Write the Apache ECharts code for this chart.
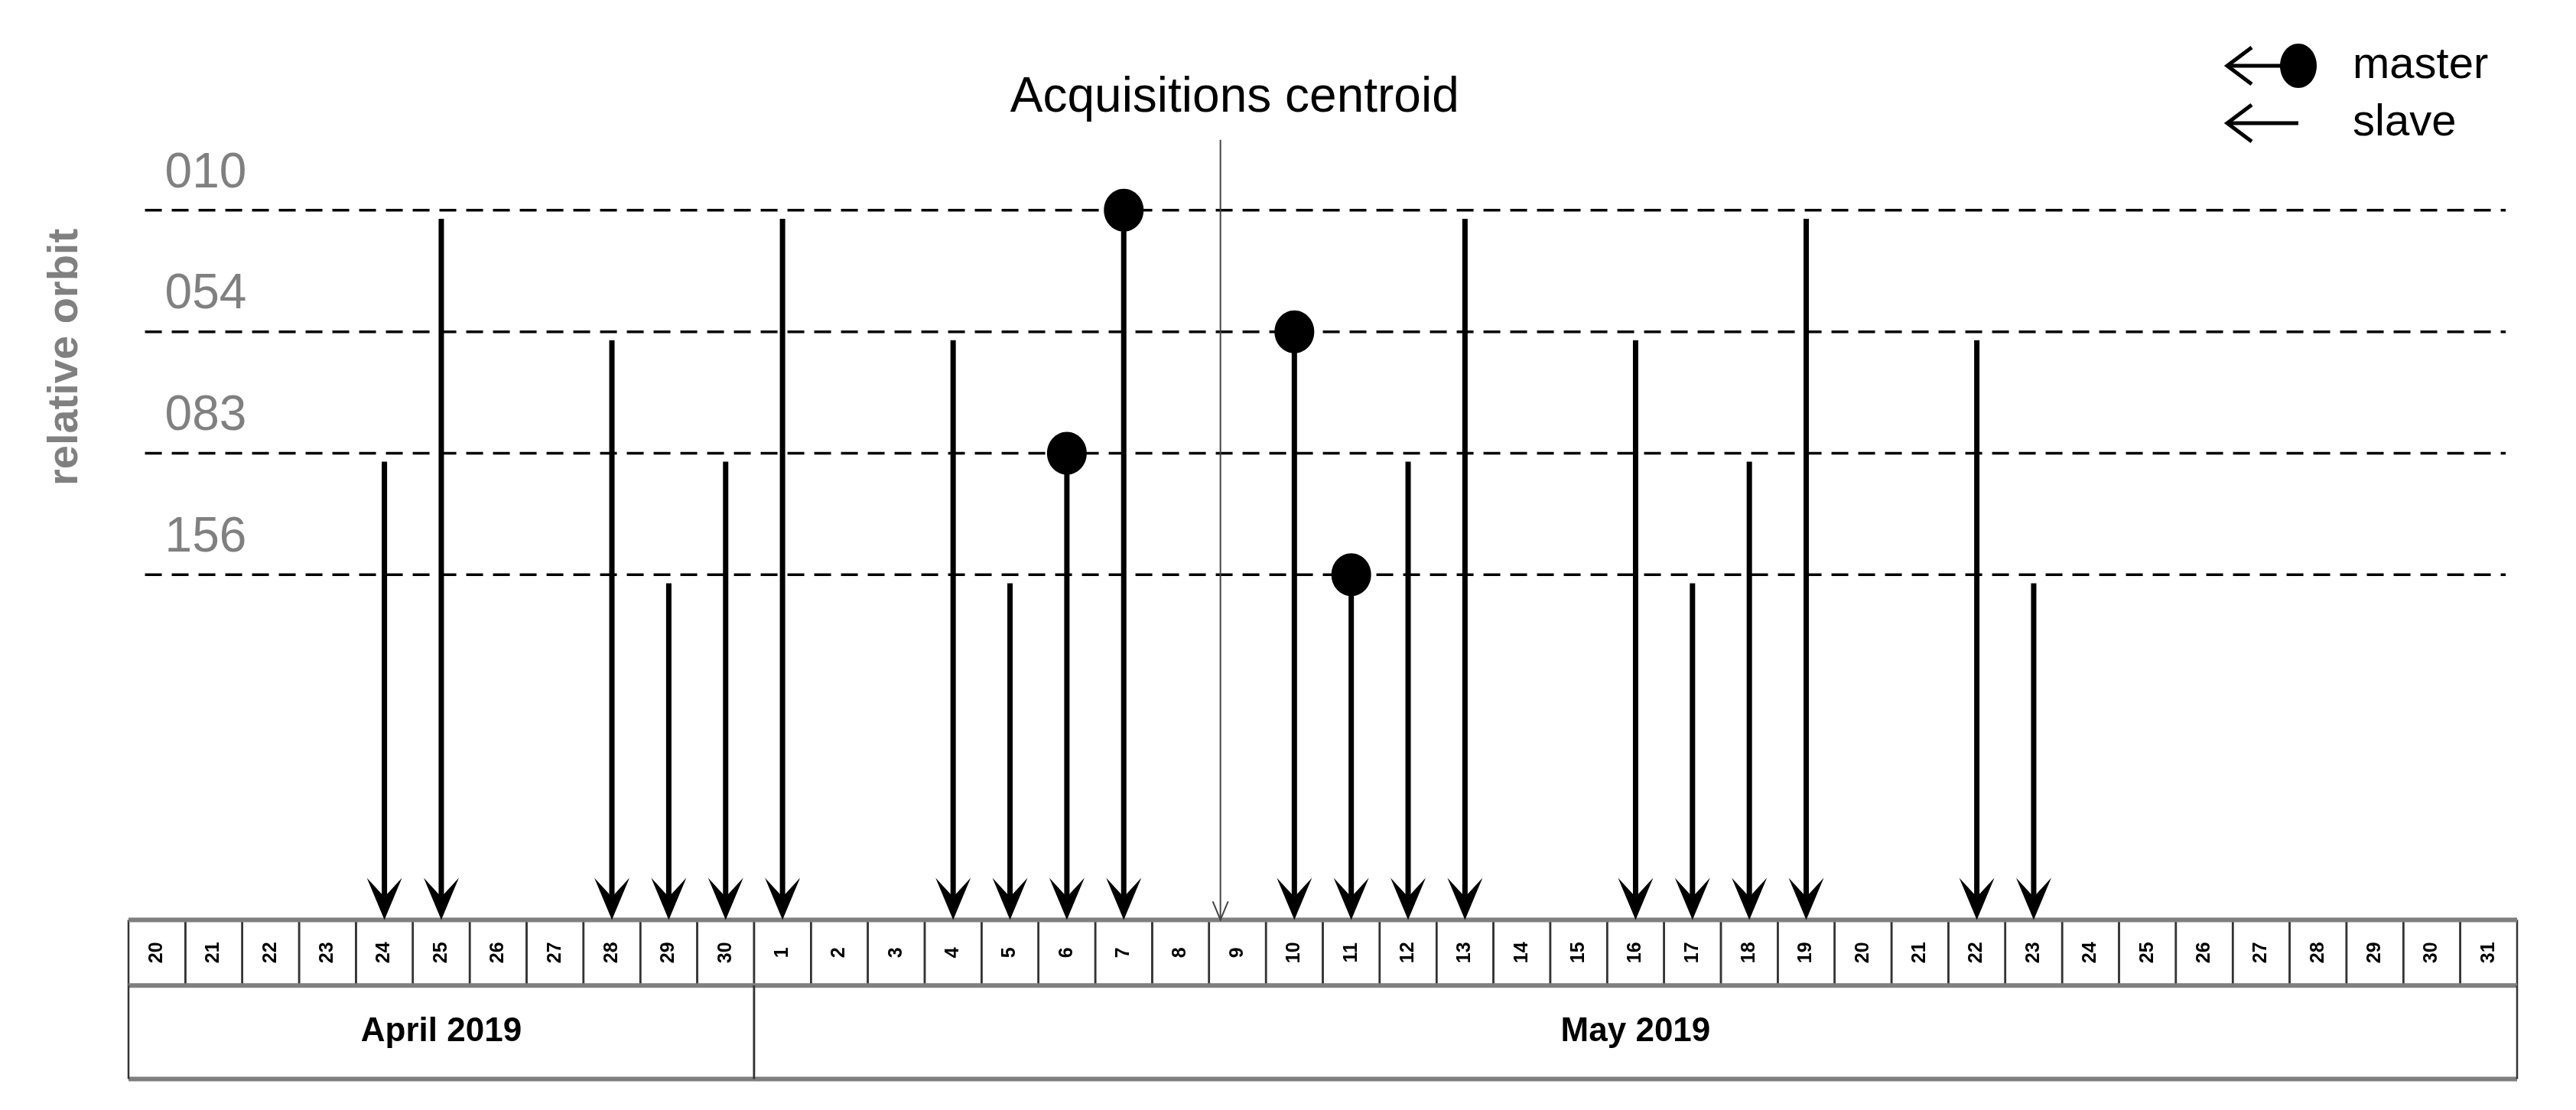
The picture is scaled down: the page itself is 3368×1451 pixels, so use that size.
<!DOCTYPE html>
<html><head><meta charset="utf-8">
<script src="https://cdn.jsdelivr.net/npm/echarts@6/dist/echarts.min.js"></script>
<style>html,body{margin:0;padding:0;background:#fff}#c{width:3368px;height:1451px}</style>
</head><body><div id="c"></div>
<script>
// ---- data ----
const days = ['20','21','22','23','24','25','26','27','28','29','30','1','2','3','4','5','6','7','8','9','10','11','12','13','14','15','16','17','18','19','20','21','22','23','24','25','26','27','28','29','30','31'];
const months = [['April 2019', 0, 11], ['May 2019', 11, 42]];
const orbits = ['156', '083', '054', '010']; // bottom to top
// [day index, orbit]
const slaves = [[4,'083'],[5,'010'],[8,'054'],[9,'156'],[10,'083'],[11,'010'],[14,'054'],[15,'156'],[22,'083'],[23,'010'],[26,'054'],[27,'156'],[28,'083'],[29,'010'],[32,'054'],[33,'156']];
const masters = [[16,'083'],[17,'010'],[20,'054'],[21,'156']];
const centroid = 19.2;

const BASE = -2.84, DAYBOT = -3.38, MONBOT = -4.15;
const FONT = '"Liberation Sans Narrow","Liberation Sans",Arial,sans-serif';
const chart = echarts.init(document.getElementById('c'));

function arrowItem(isMaster) {
  return function (params, api) {
    const x = api.value(0) + 0.5, lvl = api.value(1);
    const top = api.coord([x, isMaster ? lvl : lvl - 0.07]);
    const tip = api.coord([x, BASE]);
    const ch = [{type:'line', shape:{x1:top[0], y1:top[1], x2:tip[0], y2:tip[1]-30}, style:{stroke:'#000', lineWidth:7}},
      {type:'polygon', shape:{points:[[tip[0],tip[1]],[tip[0]-23,tip[1]-55],[tip[0],tip[1]-30],[tip[0]+23,tip[1]-55]]}, style:{fill:'#000'}}];
    if (isMaster) ch.push({type:'ellipse', shape:{cx:top[0], cy:top[1], rx:26, ry:28}, style:{fill:'#000'}});
    return {type:'group', children: ch};
  };
}

chart.setOption({
  animation: false,
  grid: {left:168, right:77, top:0, bottom:0},
  xAxis: {type:'value', min:0, max:42, show:false},
  yAxis: {type:'value', min:-4.405, max:4.73, show:false},
  graphic: [
    {type:'text', x:86, y:467, rotation:Math.PI/2,
     style:{text:'relative orbit', font:'bold 56px "Liberation Sans",Arial', fill:'#808080', textAlign:'center', textVerticalAlign:'middle', x:0, y:0}},
    {type:'text', x:3076, y:86, style:{text:'master', font:'58px "Liberation Sans",Arial', fill:'#000', textVerticalAlign:'middle'}},
    {type:'text', x:3076, y:161, style:{text:'slave', font:'58px "Liberation Sans",Arial', fill:'#000', textVerticalAlign:'middle'}},
    {type:'line', shape:{x1:2912,y1:86,x2:3000,y2:86}, style:{stroke:'#000', lineWidth:5}},
    {type:'polyline', shape:{points:[[2944,62],[2912,86],[2944,110]]}, style:{stroke:'#000', lineWidth:5, fill:null}},
    {type:'ellipse', shape:{cx:3005,cy:86,rx:24,ry:29}, style:{fill:'#000'}},
    {type:'line', shape:{x1:2912,y1:161,x2:3005,y2:161}, style:{stroke:'#000', lineWidth:5}},
    {type:'polyline', shape:{points:[[2944,137],[2912,161],[2944,185]]}, style:{stroke:'#000', lineWidth:5, fill:null}}
  ],
  series: [
    { // dashed orbit lines + labels
      type:'custom', data: orbits.map((o,i)=>[i,o]), silent:true, z:1,
      renderItem: (p, api) => {
        const i = api.value(0);
        const a = api.coord([0.29, i]), b = api.coord([41.8, i]), t = api.coord([0.64, i + 0.1]);
        return {type:'group', children:[
          {type:'line', shape:{x1:a[0],y1:a[1],x2:b[0],y2:b[1]}, style:{stroke:'#000', lineWidth:3.5, lineDash:[22,13]}},
          {type:'text', style:{x:t[0], y:t[1], text:orbits[i], font:'64px '+FONT, fill:'#808080', textVerticalAlign:'bottom'}}
        ]};
      }
    },
    { // day cells
      type:'custom', data: days.map((d,i)=>[i,d]), silent:true, z:2,
      renderItem: (p, api) => {
        const i = api.value(0);
        const a = api.coord([i, BASE]), b = api.coord([i+1, DAYBOT]), c = api.coord([i+0.5,(BASE+DAYBOT)/2]);
        return {type:'group', children:[
          {type:'line', shape:{x1:a[0],y1:a[1],x2:a[0],y2:b[1]}, style:{stroke:'#333', lineWidth:2.5}},
          {type:'line', shape:{x1:b[0],y1:a[1],x2:b[0],y2:b[1]}, style:{stroke:'#333', lineWidth:2.5}},
          {type:'text', x:c[0], y:c[1], rotation:Math.PI/2, style:{x:0,y:0,text:days[i], font:'bold 25px "Liberation Sans",Arial', fill:'#000', textAlign:'center', textVerticalAlign:'middle'}}
        ]};
      }
    },
    { // month cells
      type:'custom', data: months.map((m,i)=>[i, m[1], m[2]]), silent:true, z:2,
      renderItem: (p, api) => {
        const i = api.value(0), s = api.value(1), e = api.value(2);
        const a = api.coord([s, BASE]), b = api.coord([e, MONBOT]), d = api.coord([s, DAYBOT]);
        const c = api.coord([(s+e)/2, (DAYBOT+MONBOT)/2]);
        return {type:'group', children:[
          {type:'line', shape:{x1:a[0],y1:a[1],x2:b[0],y2:a[1]}, style:{stroke:'#7f7f7f', lineWidth:6}},
          {type:'line', shape:{x1:a[0],y1:d[1],x2:b[0],y2:d[1]}, style:{stroke:'#7f7f7f', lineWidth:6}},
          {type:'line', shape:{x1:a[0],y1:b[1],x2:b[0],y2:b[1]}, style:{stroke:'#7f7f7f', lineWidth:6}},
          {type:'line', shape:{x1:a[0],y1:d[1],x2:a[0],y2:b[1]}, style:{stroke:'#333', lineWidth:2.5}},
          {type:'line', shape:{x1:b[0],y1:d[1],x2:b[0],y2:b[1]}, style:{stroke:'#333', lineWidth:2.5}},
          {type:'text', style:{x:c[0], y:c[1], text:months[i][0], font:'bold 44px "Liberation Sans",Arial', fill:'#000', textAlign:'center', textVerticalAlign:'middle'}}
        ]};
      }
    },
    { // centroid
      type:'custom', data:[[centroid]], silent:true, z:3,
      renderItem: (p, api) => {
        const x = api.value(0);
        const a = api.coord([x, 3.58]), b = api.coord([x, BASE]), t = api.coord([x + 0.25, 3.92]);
        return {type:'group', children:[
          {type:'line', shape:{x1:a[0],y1:a[1],x2:b[0],y2:b[1]}, style:{stroke:'#444', lineWidth:2}},
          {type:'polyline', shape:{points:[[b[0]-10,b[1]-24],[b[0],b[1]],[b[0]+10,b[1]-24]]}, style:{stroke:'#444', lineWidth:2, fill:null}},
          {type:'text', style:{x:t[0], y:t[1], text:'Acquisitions centroid', font:'64px '+FONT, fill:'#000', textAlign:'center', textVerticalAlign:'middle'}}
        ]};
      }
    },
    {type:'custom', data: slaves.map(s=>[s[0], orbits.indexOf(s[1])]), silent:true, z:4, renderItem: arrowItem(false)},
    {type:'custom', data: masters.map(s=>[s[0], orbits.indexOf(s[1])]), silent:true, z:4, renderItem: arrowItem(true)}
  ]
});
</script></body></html>
